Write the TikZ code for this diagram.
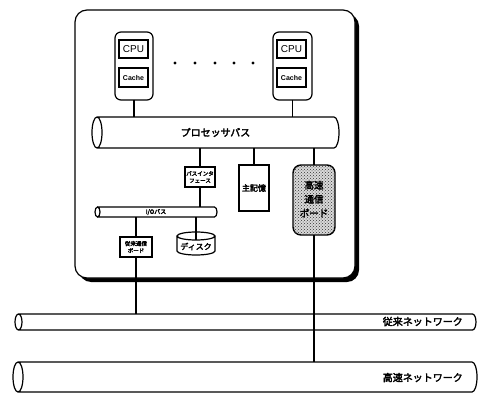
\documentclass[tikz,border=0pt]{standalone}
\usepackage{fontspec}
\setmainfont{Liberation Sans}
\newfontfamily\jp{Noto Sans CJK JP}[FakeBold=3]
\usetikzlibrary{patterns,calc}
\tikzset{
  conn/.style={line width=1.4pt},
  outline/.style={line width=1.2pt},
  ghost/.style={inner sep=0pt, outer sep=0pt, draw=none},
  smallbox/.style={draw, line width=1.2pt, inner sep=0pt, outer sep=0pt},
  jptext/.style={font=\jp, inner sep=0pt, align=center},
}
% horizontal pipe drawn around a ghost node: #1 name, #2 x radius
\newcommand\hpipe[2]{%
  \draw[outline] let \p1=(#1.north), \p2=(#1.south), \n1={(\y1-\y2)/2} in
    (#1.west) ellipse [x radius=#2, y radius=\n1]
    (#1.north west) -- (#1.north east)
    arc[start angle=90, end angle=-90, x radius=#2, y radius=\n1]
    -- (#1.south west);}
\begin{document}
\begin{tikzpicture}[x=1pt, y=-1pt]
\useasboundingbox (0,0) rectangle (479,393);

% main enclosure with shadow
\fill[black, rounded corners=12pt] (79,14) rectangle (359,282);
\draw[outline, fill=white, rounded corners=12pt] (75,10) rectangle (355,278);

% CPU groups
\node[smallbox, rounded corners=6pt, minimum width=38pt, minimum height=68pt] (g1) at (134,66) {};
\node[smallbox, line width=1.4pt, minimum width=29pt, minimum height=18pt, font=\fontsize{10}{10}\selectfont] (cpu1) at (133.5,49) {CPU};
\node[smallbox, line width=1.4pt, minimum width=29pt, minimum height=19pt, font=\bfseries\fontsize{7}{7}\selectfont] (cache1) at (133.5,77.5) {Cache};

\node[smallbox, rounded corners=6pt, minimum width=39pt, minimum height=68pt] (g2) at (292.5,66) {};
\node[smallbox, line width=1.4pt, minimum width=29pt, minimum height=18pt, font=\fontsize{10}{10}\selectfont] (cpu2) at (291.5,49) {CPU};
\node[smallbox, line width=1.4pt, minimum width=29pt, minimum height=19pt, font=\bfseries\fontsize{7}{7}\selectfont] (cache2) at (291.5,77.5) {Cache};

% dots
\foreach \x/\n in {175/d1,195/d2,215/d3,234/d4,253/d5}
  \node[circle, fill, inner sep=0pt, minimum size=3.4pt] (\n) at (\x,63) {};

% processor bus
\node[ghost, minimum width=237pt, minimum height=31pt, jptext, font=\jp\fontsize{10}{10}\selectfont] (pbus) at (215.5,132.5) {プロセッサバス};
\hpipe{pbus}{5pt}

% bus interface
\node[smallbox, minimum width=30pt, minimum height=20pt, jptext, font=\jp\fontsize{5.5}{7}\selectfont] (bif) at (200,177) {バスインタ\\フェース};

% main memory
\node[smallbox, minimum width=30pt, minimum height=46pt, jptext, font=\jp\fontsize{8}{8}\selectfont] (mem) at (254,188) {主記憶};

% high-speed board
\node[draw, line width=1.4pt, rounded corners=8pt, fill=gray!30, postaction={pattern=crosshatch dots, pattern color=black!80},
      minimum width=42pt, minimum height=70pt, inner sep=0pt, outer sep=0pt] (hsb) at (314,200) {};
\node[jptext, font=\jp\fontsize{9.5}{14}\selectfont] (hsbt) at (314,199) {高速\\通信\\ボード};

% I/O bus
\node[ghost, minimum width=117pt, minimum height=10pt, jptext, font=\jp\fontsize{6}{6}\selectfont] (iobus) at (156,212) {I/Oバス};
\hpipe{iobus}{2.5pt}

% conventional board
\node[smallbox, minimum width=32pt, minimum height=20pt, jptext, font=\jp\fontsize{5.5}{7}\selectfont] (cb) at (136,247) {従来通信\\ボード};

% disk
\node[ghost, minimum width=38pt, minimum height=15pt] (disk) at (196,243.5) {};
\draw[outline] (disk.north) ellipse [x radius=19pt, y radius=4pt]
  (disk.north west) -- (disk.south west)
  arc[start angle=180, end angle=360, x radius=19pt, y radius=4pt] -- (disk.north east);
\node[jptext, font=\jp\fontsize{8}{8}\selectfont] (diskt) at (196,246.5) {ディスク};

% networks
\node[ghost, minimum width=454pt, minimum height=16pt] (cnet) at (245.5,322) {};
\hpipe{cnet}{3.5pt}
\node[jptext, anchor=east, font=\jp\fontsize{10}{10}\selectfont] (cnett) at (463,321.5) {従来ネットワーク};

\node[ghost, minimum width=454pt, minimum height=30pt] (hnet) at (245,377) {};
\hpipe{hnet}{5pt}
\node[jptext, anchor=east, font=\jp\fontsize{10}{10}\selectfont] (hnett) at (463,377.5) {高速ネットワーク};

% connectors
\draw[conn] (g1.south) -- (pbus.north -| g1.south);
\draw[conn] (g2.south) -- (pbus.north -| g2.south);
\draw[conn] (pbus.south -| bif.north) -- (bif.north);
\draw[conn] (bif.south) -- (iobus.north -| bif.south);
\draw[conn] (pbus.south -| mem.north) -- (mem.north);
\draw[conn] (pbus.south -| hsb.north) -- (hsb.north);
\draw[conn] (iobus.south -| cb.north) -- (cb.north);
\draw[conn] (iobus.south -| disk.north) -- ([yshift=-4pt]disk.north);
\draw[conn] (cb.south) -- (cnet.north -| cb.south);
\draw[conn] (hsb.south) -- (hnet.north -| hsb.south);
\end{tikzpicture}
\end{document}
